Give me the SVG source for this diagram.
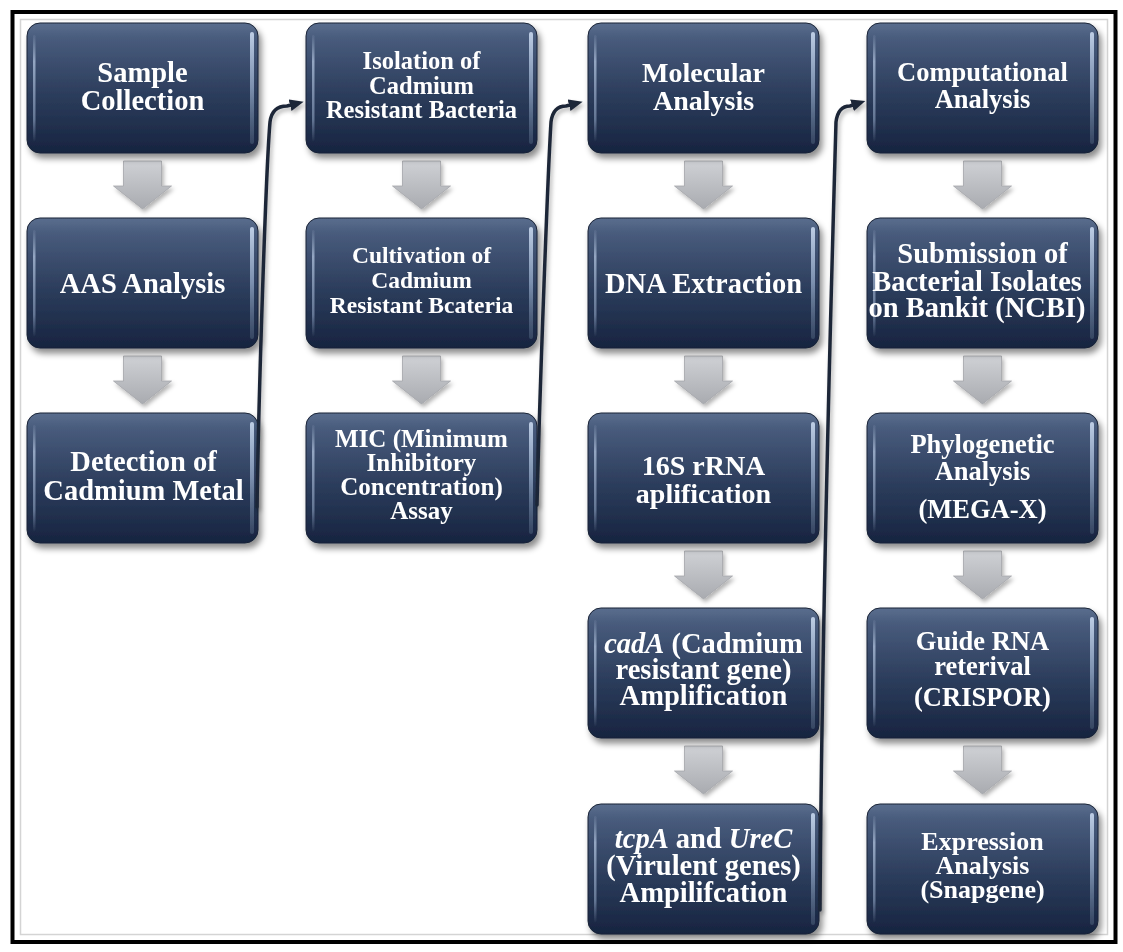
<svg xmlns="http://www.w3.org/2000/svg" width="1123" height="952" viewBox="0 0 1123 952">
<defs>
<linearGradient id="boxGrad" x1="0" y1="0" x2="0" y2="1">
<stop offset="0" stop-color="#5a6e8e"/>
<stop offset="0.12" stop-color="#485b7c"/>
<stop offset="0.55" stop-color="#2c3d5c"/>
<stop offset="1" stop-color="#172440"/>
</linearGradient>
<linearGradient id="rightHl" x1="0" y1="0" x2="0" y2="1">
<stop offset="0" stop-color="#c3d3ea" stop-opacity="0.95"/>
<stop offset="0.5" stop-color="#8ea3c2" stop-opacity="0.8"/>
<stop offset="1" stop-color="#51647f" stop-opacity="0.5"/>
</linearGradient>
<linearGradient id="leftHl" x1="0" y1="0" x2="0" y2="1">
<stop offset="0" stop-color="#a9bbd6" stop-opacity="0.1"/>
<stop offset="0.25" stop-color="#a9bbd6" stop-opacity="0.8"/>
<stop offset="0.8" stop-color="#8ea2c0" stop-opacity="0.6"/>
<stop offset="1" stop-color="#8ea2c0" stop-opacity="0.05"/>
</linearGradient>
<linearGradient id="arrowGrad" x1="0" y1="0" x2="0" y2="1">
<stop offset="0" stop-color="#cfd1d5"/>
<stop offset="1" stop-color="#a9abb0"/>
</linearGradient>
<filter id="shadow" x="-10%" y="-10%" width="125%" height="130%">
<feDropShadow dx="3" dy="5" stdDeviation="3" flood-color="#000" flood-opacity="0.45"/>
</filter>
<filter id="lshadow" x="-20%" y="-5%" width="140%" height="115%">
<feDropShadow dx="2" dy="3" stdDeviation="2" flood-color="#000" flood-opacity="0.3"/>
</filter>
<marker id="ah" markerUnits="userSpaceOnUse" markerWidth="16" markerHeight="14" refX="1" refY="6" orient="auto">
<path d="M0,0 L14,6 L0,12 Z" fill="#1e2737"/>
</marker>
<g id="boxShape">
<rect x="0" y="0" width="231" height="130" rx="13" ry="13" fill="url(#boxGrad)" stroke="#1a2336" stroke-width="1"/>
<rect x="6" y="12" width="2.5" height="106" rx="1.2" fill="url(#leftHl)"/>
<rect x="223" y="9" width="4" height="112" rx="2" fill="url(#rightHl)"/>
</g>
<path id="blockArrow" d="M-19,0 H19 V25 H29 L0,48 L-29,25 H-19 Z" fill="url(#arrowGrad)" stroke="#a3a5aa" stroke-width="0.8"/>
</defs>
<style>
.t{font-family:"Liberation Serif","Times New Roman",serif;font-weight:bold;fill:#ffffff;text-anchor:middle}
.i{font-style:italic}
.nodes{filter:url(#shadow)}
.conn path{fill:none;stroke:#1e2737;stroke-width:3.5;stroke-linecap:round;marker-end:url(#ah)}
</style>
<rect x="0" y="0" width="1123" height="952" fill="#ffffff"/>
<rect x="12.5" y="12" width="1103" height="930" fill="none" stroke="#000000" stroke-width="4"/>
<rect x="20.5" y="19.5" width="1087" height="915" fill="none" stroke="#d4d4d4" stroke-width="1.5"/>

<g id="block-arrows" filter="url(#lshadow)">
<use href="#blockArrow" transform="translate(142.5,161)"/>
<use href="#blockArrow" transform="translate(142.5,356)"/>
<use href="#blockArrow" transform="translate(421.5,161)"/>
<use href="#blockArrow" transform="translate(421.5,356)"/>
<use href="#blockArrow" transform="translate(703.5,161)"/>
<use href="#blockArrow" transform="translate(703.5,356)"/>
<use href="#blockArrow" transform="translate(703.5,551)"/>
<use href="#blockArrow" transform="translate(703.5,746)"/>
<use href="#blockArrow" transform="translate(982.5,161)"/>
<use href="#blockArrow" transform="translate(982.5,356)"/>
<use href="#blockArrow" transform="translate(982.5,551)"/>
<use href="#blockArrow" transform="translate(982.5,746)"/>
</g>

<g id="n-sample"><use href="#boxShape" x="27" y="23" class="nodes"/>
<text class="t" font-size="28.5"><tspan x="142.5" y="82">Sample</tspan><tspan x="142.5" y="110">Collection</tspan></text></g>
<g id="n-aas"><use href="#boxShape" x="27" y="218" class="nodes"/>
<text class="t" font-size="28.5" x="142.5" y="293">AAS Analysis</text></g>
<g id="n-detection"><use href="#boxShape" x="27" y="413" class="nodes"/>
<text class="t" font-size="28.5"><tspan x="143.5" y="471">Detection of</tspan><tspan x="143.5" y="500">Cadmium Metal</tspan></text></g>

<g id="n-isolation"><use href="#boxShape" x="306" y="23" class="nodes"/>
<text class="t" font-size="24.5"><tspan x="421.5" y="69">Isolation of</tspan><tspan x="421.5" y="94">Cadmium</tspan><tspan x="421.5" y="118">Resistant Bacteria</tspan></text></g>
<g id="n-cultivation"><use href="#boxShape" x="306" y="218" class="nodes"/>
<text class="t" font-size="23.5"><tspan x="421.5" y="263">Cultivation of</tspan><tspan x="421.5" y="288">Cadmium</tspan><tspan x="421.5" y="313">Resistant Bcateria</tspan></text></g>
<g id="n-mic"><use href="#boxShape" x="306" y="413" class="nodes"/>
<text class="t" font-size="25"><tspan x="421.5" y="447">MIC (Minimum</tspan><tspan x="421.5" y="471">Inhibitory</tspan><tspan x="421.5" y="495">Concentration)</tspan><tspan x="421.5" y="519">Assay</tspan></text></g>

<g id="n-molecular"><use href="#boxShape" x="588" y="23" class="nodes"/>
<text class="t" font-size="28"><tspan x="703.5" y="82">Molecular</tspan><tspan x="703.5" y="110">Analysis</tspan></text></g>
<g id="n-dna"><use href="#boxShape" x="588" y="218" class="nodes"/>
<text class="t" font-size="28.5" x="703.5" y="293">DNA Extraction</text></g>
<g id="n-16s"><use href="#boxShape" x="588" y="413" class="nodes"/>
<text class="t" font-size="28"><tspan x="703.5" y="475">16S rRNA</tspan><tspan x="703.5" y="503">aplification</tspan></text></g>
<g id="n-cada"><use href="#boxShape" x="588" y="608" class="nodes"/>
<text class="t" font-size="28.5"><tspan x="703.5" y="653"><tspan class="i">cadA</tspan> (Cadmium</tspan><tspan x="703.5" y="679">resistant gene)</tspan><tspan x="703.5" y="705">Amplification</tspan></text></g>
<g id="n-tcpa"><use href="#boxShape" x="588" y="804" class="nodes"/>
<text class="t" font-size="28.5"><tspan x="703.5" y="848"><tspan class="i">tcpA</tspan> and <tspan class="i">UreC</tspan></tspan><tspan x="703.5" y="875">(Virulent genes)</tspan><tspan x="703.5" y="902">Ampilifcation</tspan></text></g>

<g id="n-computational"><use href="#boxShape" x="867" y="23" class="nodes"/>
<text class="t" font-size="26.5"><tspan x="982.5" y="81">Computational</tspan><tspan x="982.5" y="108">Analysis</tspan></text></g>
<g id="n-submission"><use href="#boxShape" x="867" y="218" class="nodes"/>
<text class="t" font-size="28.5"><tspan x="982.5" y="263">Submission of</tspan><tspan x="977" y="291">Bacterial Isolates</tspan><tspan x="977" y="317">on Bankit (NCBI)</tspan></text></g>
<g id="n-phylo"><use href="#boxShape" x="867" y="413" class="nodes"/>
<text class="t" font-size="26.5"><tspan x="982.5" y="453">Phylogenetic</tspan><tspan x="982.5" y="480">Analysis</tspan><tspan x="982.5" y="518">(MEGA-X)</tspan></text></g>
<g id="n-guide"><use href="#boxShape" x="867" y="608" class="nodes"/>
<text class="t" font-size="26.5"><tspan x="982.5" y="650">Guide RNA</tspan><tspan x="982.5" y="675">reterival</tspan><tspan x="982.5" y="706">(CRISPOR)</tspan></text></g>
<g id="n-expression"><use href="#boxShape" x="867" y="804" class="nodes"/>
<text class="t" font-size="26"><tspan x="982.5" y="850">Expression</tspan><tspan x="982.5" y="874">Analysis</tspan><tspan x="982.5" y="898">(Snapgene)</tspan></text></g>

<g id="connectors" class="conn" filter="url(#lshadow)">
<path d="M257,507 C259,380 266,170 270,122 Q272,106 287,106 L291,105"/>
<path d="M537,505 C540,380 548,170 551,122 Q553,106 566,106 L570,105"/>
<path d="M820,910 C822,600 831,300 836,122 Q838,106 850,106 L853,105"/>
</g>
</svg>
